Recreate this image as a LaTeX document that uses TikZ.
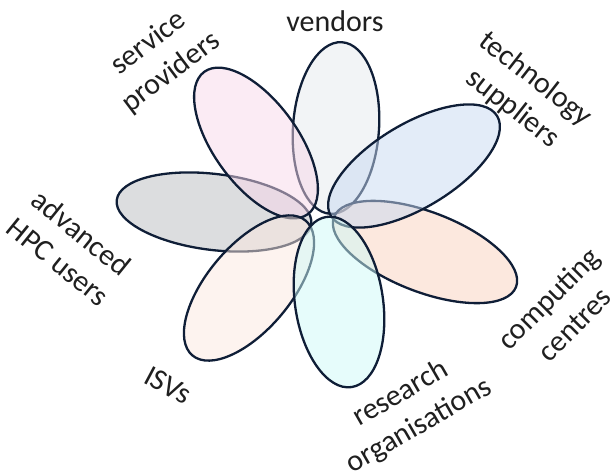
\documentclass[tikz,border=0pt]{standalone}
\usepackage{fontspec}
\setmainfont{Carlito}
\definecolor{edge}{RGB}{15,30,55}
\definecolor{cVend}{RGB}{229,233,237}
\definecolor{cServ}{RGB}{247,215,233}
\definecolor{cAdv}{RGB}{185,187,191}
\definecolor{cTech}{RGB}{199,217,241}
\definecolor{cComp}{RGB}{249,209,189}
\definecolor{cISV}{RGB}{251,231,223}
\definecolor{cRes}{RGB}{205,249,247}
\begin{document}
\begin{tikzpicture}[x=1pt,y=-1pt,
  petal/.style={draw=edge, line width=2.3pt, fill opacity=0.5, draw opacity=1},
  lbl/.style={font=\fontsize{30}{37}\selectfont, align=center, inner sep=0pt, text=black!88}]
\useasboundingbox (0,0) rectangle (610,472);
% petals (drawing order matters for overlaps)
\draw[petal, fill=cAdv,  rotate around={-7:(214,212)}]  (214,212) ellipse (98pt and 38pt);
\draw[petal, fill=cVend, rotate around={86:(336,128)}]  (336,128) ellipse (86pt and 43pt);
\draw[petal, fill=cComp, rotate around={-21:(425,252)}] (425,252) ellipse (97.5pt and 40pt);
\draw[petal, fill=cServ, rotate around={126:(256,143)}] (256,143) ellipse (88pt and 42pt);
\draw[petal, fill=cISV,  rotate around={50:(249,288)}]  (249,288) ellipse (88pt and 42pt);
\draw[petal, fill=cTech, rotate around={31:(414,166)}]  (414,166) ellipse (97pt and 42pt);
\draw[petal, fill=cRes,  rotate around={98.4:(339,302)}] (339,302) ellipse (86pt and 44pt);
% labels
\node[lbl] (vendors) at (335,21) {vendors};
\node[lbl, rotate=37] (service) at (160,58) {service\\providers};
\node[lbl, rotate=-38] (tech) at (524,94) {technology\\suppliers};
\node[lbl, rotate=-39] (adv) at (70,247) {advanced\\HPC users};
\node[lbl, rotate=-28] (isv) at (168,385) {ISVs};
\node[lbl, rotate=30] (research) at (410,410) {research\\organisations};
\node[lbl, rotate=45] (comp) at (561,311) {computing\\centres};
\end{tikzpicture}
\end{document}
